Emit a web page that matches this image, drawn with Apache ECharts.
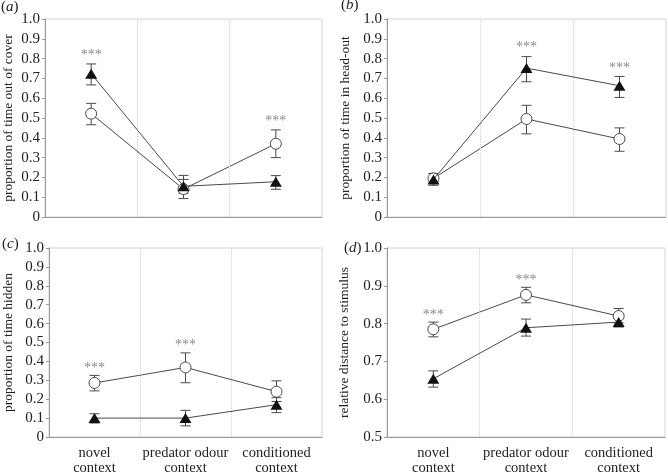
<!DOCTYPE html>
<html><head><meta charset="utf-8">
<script src="https://cdn.jsdelivr.net/npm/echarts@6/dist/echarts.min.js"></script>
<style>html,body{margin:0;padding:0;background:#fff}#c{width:668px;height:476px}</style>
</head><body><div id="c"></div>
<script>
// ---- data ----
const categories = ['novel\ncontext', 'predator odour\ncontext', 'conditioned\ncontext'];
const panelLabels = ['a', 'b', 'c', 'd'];
const yNames = ['proportion of time out of cover', 'proportion of time in head-out', 'proportion of time hidden', 'relative distance to stimulus'];
const yMins = [0, 0, 0, 0.5];
const yMaxs = [1, 1, 1, 1];

// panel (a)
const aTri = [0.724, 0.155, 0.178], aTriLo = [0.667, 0.12, 0.14], aTriHi = [0.773, 0.19, 0.209];
const aCir = [0.522, 0.141, 0.37], aCirLo = [0.466, 0.093, 0.30], aCirHi = [0.574, 0.21, 0.44];
const aStars = [0.83, null, 0.50];
// panel (b)
const bTri = [0.19, 0.752, 0.663], bTriLo = [0.16, 0.683, 0.604], bTriHi = [0.22, 0.81, 0.71];
const bCir = [0.195, 0.495, 0.394], bCirLo = [0.18, 0.42, 0.332], bCirHi = [0.22, 0.564, 0.45];
const bStars = [null, 0.87, 0.764];
// panel (c)
const cTri = [0.10, 0.10, 0.171], cTriLo = [0.074, 0.059, 0.129], cTriHi = [0.123, 0.141, 0.208];
const cCir = [0.286, 0.368, 0.24], cCirLo = [0.244, 0.287, 0.188], cCirHi = [0.326, 0.445, 0.297];
const cStars = [0.38, 0.50, null];
// panel (d)
const dTri = [0.654, 0.789, 0.804], dTriLo = [0.632, 0.767, 0.791], dTriHi = [0.675, 0.812, 0.815];
const dCir = [0.785, 0.876, 0.82], dCirLo = [0.765, 0.855, 0.802], dCirHi = [0.804, 0.896, 0.84];
const dStars = [0.829, 0.922, null];

const panels = [
  {tri: aTri, triLo: aTriLo, triHi: aTriHi, cir: aCir, cirLo: aCirLo, cirHi: aCirHi, stars: aStars},
  {tri: bTri, triLo: bTriLo, triHi: bTriHi, cir: bCir, cirLo: bCirLo, cirHi: bCirHi, stars: bStars},
  {tri: cTri, triLo: cTriLo, triHi: cTriHi, cir: cCir, cirLo: cCirLo, cirHi: cCirHi, stars: cStars},
  {tri: dTri, triLo: dTriLo, triHi: dTriHi, cir: dCir, cirLo: dCirLo, cirHi: dCirHi, stars: dStars}
];

// ---- layout ----
const grids = [
  {left: 42, top: 19, width: 280, height: 198},
  {left: 387, top: 19, width: 279, height: 198},
  {left: 43, top: 248, width: 279, height: 199},
  {left: 387, top: 248, width: 279, height: 199}
];
const nameGaps = [30, 35, 34, 36];
const labelPos = [[1, 7], [341, 5], [2, 244], [344, 248]];
const SERIF = 'Liberation Serif, Times New Roman, Times, serif';
const LINE = '#4a4a4a';

const chart = echarts.init(document.getElementById('c'), null, {renderer: 'canvas'});

const xAxis = [], yAxis = [], series = [], graphic = [];
grids.forEach((g, i) => {
  g.show = true; g.borderColor = '#d4d4d4'; g.borderWidth = 1;
  xAxis.push({
    type: 'value', gridIndex: i, min: 0, max: 3, interval: 0.5,
    axisLine: {show: true, lineStyle: {color: '#999', width: 1}},
    axisTick: {show: false}, splitLine: {show: false},
    axisLabel: {
      show: i >= 2, fontFamily: SERIF, fontSize: 14.5, color: '#222', lineHeight: 15, margin: 9,
      formatter: v => { const k = Math.round(v - 0.5); return Math.abs(v - 0.5 - k) < 1e-6 && k >= 0 && k < 3 ? categories[k] : ''; }
    }
  });
  yAxis.push({
    type: 'value', gridIndex: i, min: yMins[i], max: yMaxs[i], interval: 0.1,
    name: yNames[i], nameLocation: 'middle', nameGap: nameGaps[i], nameRotate: 90,
    nameTextStyle: {fontFamily: SERIF, fontSize: 13.5, color: '#222'},
    axisLine: {show: true, lineStyle: {color: '#999', width: 1}},
    axisTick: {show: true, length: 3, lineStyle: {color: '#999'}},
    splitLine: {show: false},
    axisLabel: {fontFamily: SERIF, fontSize: 15, color: '#222', margin: 5,
      formatter: v => Math.abs(v) < 1e-9 ? '0' : v.toFixed(1)}
  });

  const p = panels[i];
  const pts = arr => arr.map((v, k) => [k + 0.5, v]);
  const errData = (lo, hi) => lo.map((l, k) => [k + 0.5, l, hi[k]]);
  const errSeries = (lo, hi) => ({
    type: 'custom', xAxisIndex: i, yAxisIndex: i, z: 3, silent: true,
    data: errData(lo, hi),
    encode: {x: 0, y: [1, 2]},
    renderItem: (params, api) => {
      const top = api.coord([api.value(0), api.value(2)]);
      const bot = api.coord([api.value(0), api.value(1)]);
      const w = 5;
      const st = {stroke: LINE, lineWidth: 1};
      return {type: 'group', children: [
        {type: 'line', shape: {x1: top[0], y1: top[1], x2: bot[0], y2: bot[1]}, style: st},
        {type: 'line', shape: {x1: top[0] - w, y1: top[1], x2: top[0] + w, y2: top[1]}, style: st},
        {type: 'line', shape: {x1: bot[0] - w, y1: bot[1], x2: bot[0] + w, y2: bot[1]}, style: st}
      ]};
    }
  });
  series.push(errSeries(p.cirLo, p.cirHi));
  series.push(errSeries(p.triLo, p.triHi));
  series.push({
    type: 'line', xAxisIndex: i, yAxisIndex: i, z: 4, data: pts(p.cir),
    symbol: 'circle', symbolSize: 11,
    lineStyle: {color: LINE, width: 1},
    itemStyle: {color: '#fff', borderColor: LINE, borderWidth: 1},
    markLine: {silent: true, symbol: ['none', 'none'], label: {show: false},
      lineStyle: {color: '#cfcfcf', type: 'dotted', width: 1},
      data: [{xAxis: 1}, {xAxis: 2}]}
  });
  series.push({
    type: 'line', xAxisIndex: i, yAxisIndex: i, z: 5, data: pts(p.tri),
    symbol: 'triangle', symbolSize: [12, 10],
    lineStyle: {color: LINE, width: 1},
    itemStyle: {color: '#111', borderColor: '#111', borderWidth: 0}
  });
  series.push({
    type: 'custom', xAxisIndex: i, yAxisIndex: i, z: 6, silent: true,
    data: p.stars.map((v, k) => v == null ? null : [k + 0.5, v]).filter(d => d),
    renderItem: (params, api) => {
      const c = api.coord([api.value(0), api.value(1)]);
      return {type: 'text', x: c[0], y: c[1] + 3,
        style: {text: '***', fill: '#8a8a8a', font: '14px ' + SERIF, align: 'center', verticalAlign: 'middle'}};
    }
  });

  graphic.push({
    type: 'text', left: labelPos[i][0], top: labelPos[i][1] - 7,
    style: {
      text: '{p|(}{i|' + panelLabels[i] + '}{p|)}',
      rich: {
        p: {fontFamily: SERIF, fontSize: 15, fill: '#222'},
        i: {fontFamily: SERIF, fontSize: 15, fontStyle: 'italic', fill: '#222'}
      }
    }
  });
});

chart.setOption({
  animation: false,
  backgroundColor: '#fff',
  grid: grids, xAxis, yAxis, series, graphic
});
</script></body></html>
